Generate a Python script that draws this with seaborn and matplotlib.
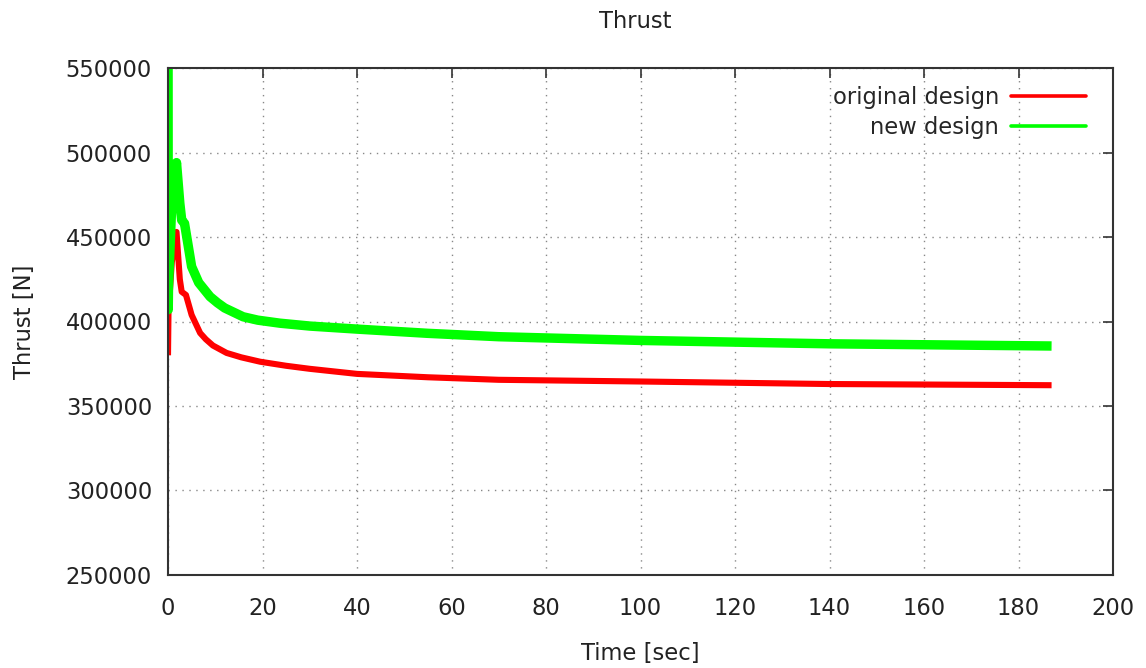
import matplotlib
matplotlib.use("Agg")
import matplotlib.pyplot as plt
import seaborn as sns
import pandas as pd

# Thrust history read at key times [sec] -> thrust [N]
time_original = [0.0, 0.1, 0.8, 1.8, 2.5, 2.9, 3.8, 5.0, 6.8, 8.0, 9.5, 12.4, 15.5,
                 19.5, 25.0, 30.0, 40.0, 55.0, 70.0, 100.0, 140.0, 187.0]
thrust_original = [380000, 405000, 435000, 453000, 425000, 417600, 415700, 403900,
                   393200, 389500, 385800, 381400, 378800, 376200, 373800, 372000,
                   369000, 367000, 365500, 364500, 363000, 362300]

time_new = [0.0, 0.05, 0.1, 0.8, 1.8, 2.5, 2.9, 3.5, 5.0, 6.5, 8.9, 10.5, 12.0,
            15.9, 19.0, 23.7, 30.0, 40.0, 55.0, 70.0, 100.0, 140.0, 187.0]
thrust_new = [600000, 407000, 420000, 470000, 494000, 470000, 460000, 458000,
              432500, 423000, 414700, 411000, 408000, 402800, 400800, 399000,
              397300, 395500, 393000, 391000, 388800, 386800, 385500]

series_names = ["original design", "new design"]
series_colors = ["#ff0000", "#00ff00"]

df = pd.concat([
    pd.DataFrame({"Time [sec]": time_original, "Thrust [N]": thrust_original,
                  "series": series_names[0]}),
    pd.DataFrame({"Time [sec]": time_new, "Thrust [N]": thrust_new,
                  "series": series_names[1]}),
], ignore_index=True)

sns.set_theme(style="white")
plt.rcParams["font.family"] = ["DejaVu Sans"]

fig = plt.figure(figsize=(11.46, 6.68), dpi=100)
ax = fig.add_axes([168 / 1146, 1 - 575 / 668, (1113 - 168) / 1146, (575 - 68) / 668])

sns.lineplot(data=df, x="Time [sec]", y="Thrust [N]", hue="series",
             hue_order=series_names, palette=series_colors, estimator=None,
             sort=False, ax=ax, legend=False)
for line, lw in zip(ax.get_lines(), [4.4, 6.8]):
    line.set_linewidth(lw)
    line.set_solid_capstyle("butt")
    line.set_solid_joinstyle("round")

ax.set_xlim(0, 200)
ax.set_ylim(250000, 550000)
ax.set_xticks(range(0, 201, 20))
ax.set_yticks(range(250000, 550001, 50000))
ax.ticklabel_format(axis="y", style="plain", useOffset=False)

fs = 16.3
ax.tick_params(direction="in", length=7, width=1.2, colors="#333333",
               labelcolor="#222222", labelsize=fs, top=True, right=True)
ax.tick_params(axis="x", pad=16)
ax.tick_params(axis="y", pad=11.5)
for s in ax.spines.values():
    s.set_color("#333333")
    s.set_linewidth(1.5)

ax.grid(True, color="#888888", linestyle=(0, (1, 4)), linewidth=1.0)
ax.set_axisbelow(True)

ax.set_xlabel("Time [sec]", fontsize=fs, color="#222222", labelpad=15.5)
ax.set_ylabel("Thrust [N]", fontsize=fs, color="#222222", labelpad=21.5)
fig.text(0.5 * (168 + 1113) / 1146 - 0.005, 1 - 21 / 668, "Thrust", ha="center",
         va="center", fontsize=fs, color="#222222")

handles = [plt.Line2D([], [], color=c, lw=2.6) for c in series_colors]
ax.legend(handles, series_names, loc="upper right", frameon=False,
          markerfirst=False, fontsize=fs, handlelength=3.3, handletextpad=0.53,
          labelspacing=0.3, borderaxespad=0.3, bbox_to_anchor=(0.988, 0.996))

fig.savefig("out.png", dpi=100)
